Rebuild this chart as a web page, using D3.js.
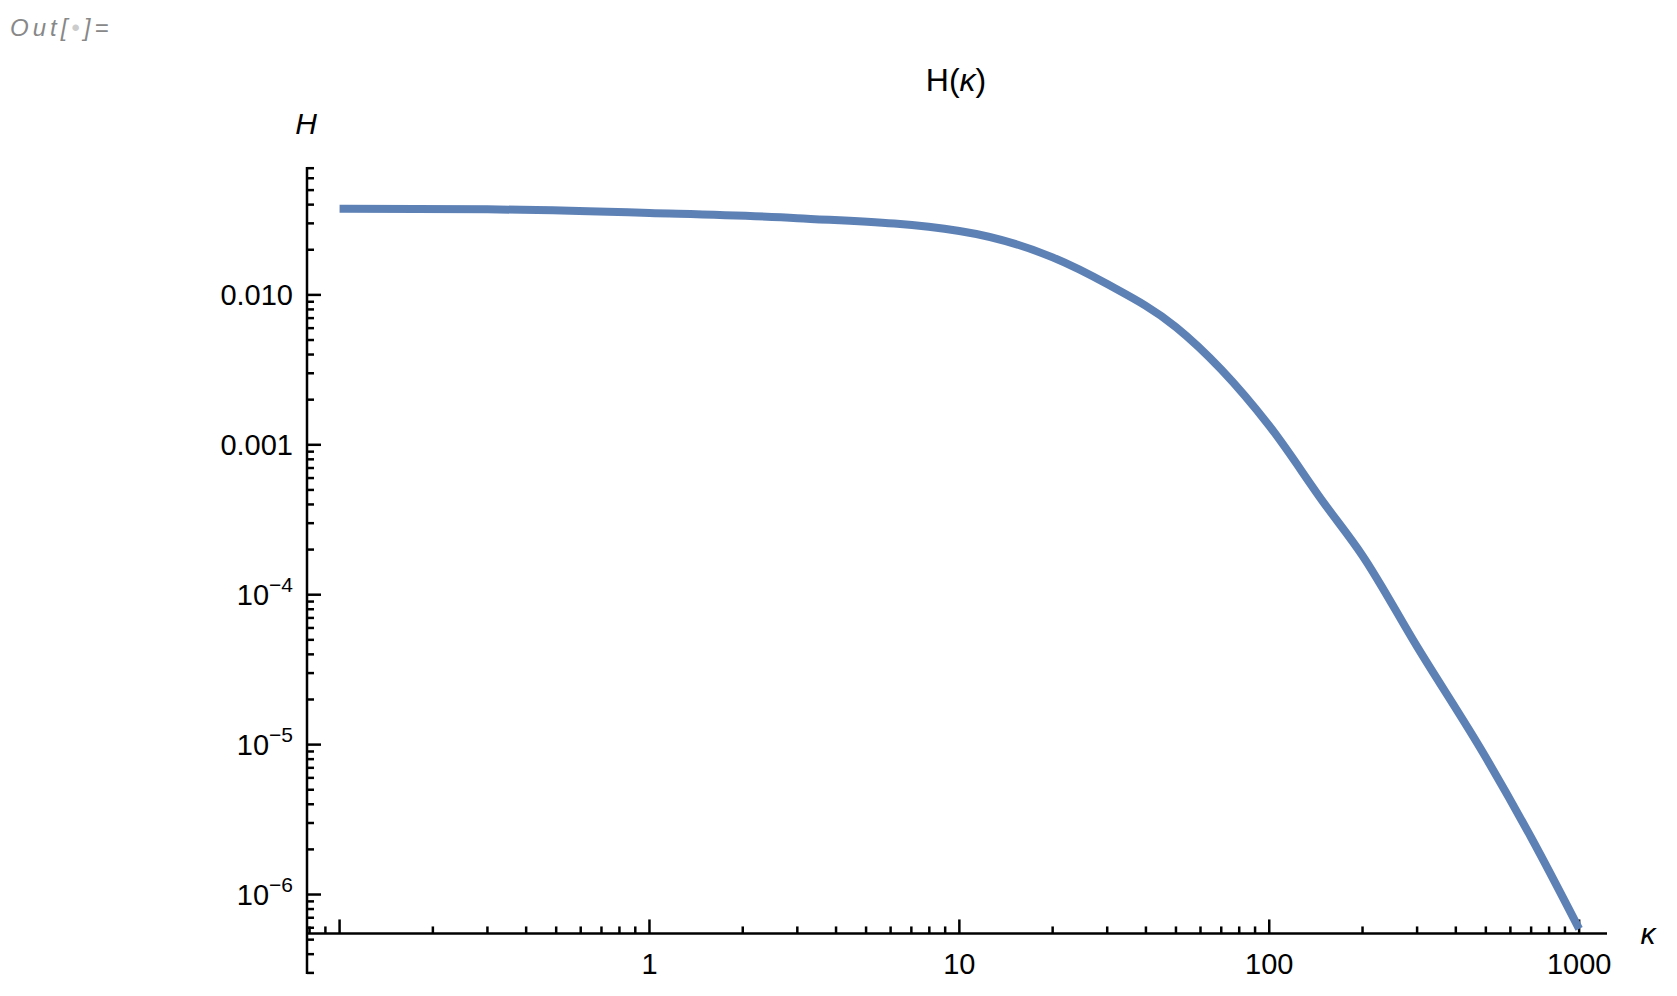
<!DOCTYPE html>
<html>
<head>
<meta charset="utf-8">
<script src="https://cdn.jsdelivr.net/npm/d3@7"></script>
<style>
  body { margin: 0; background: #fff; }
  text { font-family: "Liberation Sans", Arial, sans-serif; }
</style>
</head>
<body>
<div id="chart"></div>
<script>
// données
const kappa = [0.1, 0.3, 1, 3, 10, 20, 30, 50, 70, 100, 150, 200, 300, 500, 700, 1000];
const hValues = [0.0376, 0.0372, 0.0352, 0.0325, 0.0267, 0.0178, 0.0118, 0.0061, 0.00318,
  0.00134, 4.1e-4, 1.82e-4, 4.5e-5, 8.2e-6, 2.4e-6, 5.9e-7];
const xMajor = [0.1, 1, 10, 100, 1000];
const xLabels = ["", "1", "10", "100", "1000"];
const yMajor = [1e-6, 1e-5, 1e-4, 1e-3, 1e-2];
const yLabels = [["10", "−6"], ["10", "−5"], ["10", "−4"], ["0.001"], ["0.010"]];

const W = 1677, H = 996;
const svg = d3.select("#chart").append("svg").attr("width", W).attr("height", H);

const x = d3.scaleLog().domain([0.0785, 1230]).range([307, 1607]);
const y = d3.scaleLog().domain([2.95e-7, 0.0713]).range([974, 167]);
const xAxisY = y(5.5e-7);
const yAxisX = x(0.0785);

// ticks mineurs
function minors(lo, hi) {
  const out = [];
  for (let e = -8; e <= 4; e++)
    for (let m = 2; m <= 9; m++) {
      const v = m * Math.pow(10, e);
      if (v >= lo && v <= hi) out.push(v);
    }
  return out;
}
const xMinor = minors(0.0785, 1230);
const yMinor = minors(2.95e-7, 0.0713);

const axes = svg.append("g").attr("stroke", "#000").attr("stroke-width", 2.5);
axes.append("line").attr("x1", 307).attr("x2", 1607).attr("y1", xAxisY).attr("y2", xAxisY);
axes.append("line").attr("x1", yAxisX).attr("x2", yAxisX).attr("y1", 167).attr("y2", 974);

axes.selectAll(".xmaj").data(xMajor).enter().append("line")
  .attr("x1", d => x(d)).attr("x2", d => x(d)).attr("y1", xAxisY).attr("y2", xAxisY - 14);
axes.selectAll(".xmin").data(xMinor).enter().append("line")
  .attr("x1", d => x(d)).attr("x2", d => x(d)).attr("y1", xAxisY).attr("y2", xAxisY - 7);
axes.selectAll(".ymaj").data(yMajor).enter().append("line")
  .attr("x1", yAxisX).attr("x2", yAxisX + 14).attr("y1", d => y(d)).attr("y2", d => y(d));
axes.selectAll(".ymin").data(yMinor).enter().append("line")
  .attr("x1", yAxisX).attr("x2", yAxisX + 7).attr("y1", d => y(d)).attr("y2", d => y(d));

// étiquettes
svg.selectAll(".xl").data(xMajor).enter().append("text")
  .attr("x", d => x(d)).attr("y", 974).attr("text-anchor", "middle")
  .attr("font-size", 29).text((d, i) => xLabels[i]);

const yl = svg.selectAll(".yl").data(yMajor).enter().append("text")
  .attr("x", yAxisX - 14).attr("y", d => y(d) + 10).attr("text-anchor", "end")
  .attr("font-size", 29);
yl.each(function(d, i) {
  const t = d3.select(this), lab = yLabels[i];
  t.append("tspan").text(lab[0]);
  if (lab[1]) t.append("tspan").attr("dy", -13).attr("font-size", 21).text(lab[1]);
});

// courbe
const line = d3.line().x((d, i) => x(kappa[i])).y(d => y(d)).curve(d3.curveMonotoneX);
svg.append("path").datum(hValues).attr("fill", "none")
  .attr("stroke", "#5E81B5").attr("stroke-width", 8).attr("d", line);

// textes
svg.append("text").attr("x", 956).attr("y", 91).attr("text-anchor", "middle")
  .attr("font-size", 32).html('H(<tspan font-style="italic">κ</tspan>)');
svg.append("text").attr("x", 306).attr("y", 134).attr("text-anchor", "middle")
  .attr("font-size", 30).attr("font-style", "italic").text("H");
svg.append("text").attr("x", 1648).attr("y", 944).attr("text-anchor", "middle")
  .attr("font-size", 30).attr("font-style", "italic").text("κ");
const out = svg.append("text").attr("x", 10).attr("y", 36).attr("font-size", 24)
  .attr("font-style", "italic").attr("fill", "#888").attr("letter-spacing", 4);
out.append("tspan").text("Out[");
out.append("tspan").attr("fill", "#ccc").text("•");
out.append("tspan").text("]=");
</script>
</body>
</html>
